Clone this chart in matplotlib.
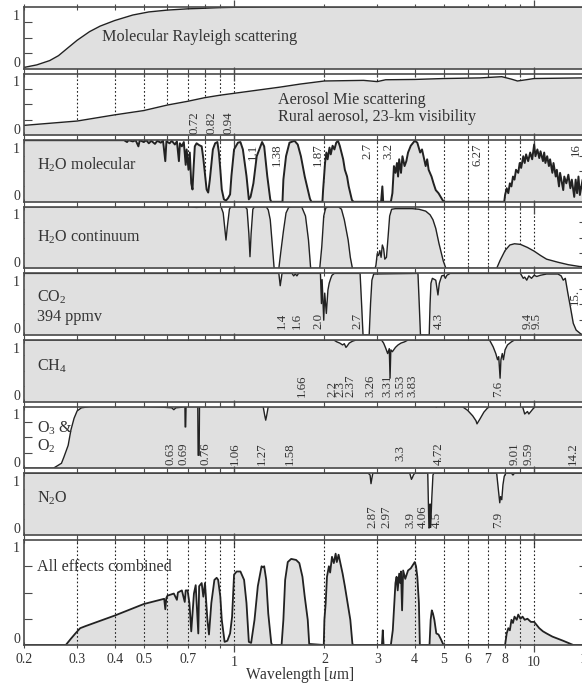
import numpy as np
import matplotlib
matplotlib.use("Agg")
import matplotlib.pyplot as plt

plt.rcParams['font.family'] = ['Liberation Serif', 'DejaVu Serif']
plt.rcParams['mathtext.fontset'] = 'custom'
plt.rcParams['mathtext.rm'] = 'Liberation Serif'
plt.rcParams['mathtext.it'] = 'Liberation Serif:italic'

# ---------------- data (wavelength um, transmittance) ----------------
RAYLEIGH = [(0.20, 0.02), (0.22, 0.06), (0.243, 0.13), (0.26, 0.21), (0.28, 0.34), (0.30, 0.46),
            (0.33, 0.60), (0.358, 0.69), (0.40, 0.78), (0.46, 0.87), (0.52, 0.92), (0.60, 0.95),
            (0.70, 0.97), (0.80, 0.98), (0.90, 0.99), (1.0, 0.995), (1.3, 1.0), (2.0, 1.0), (16, 1.0)]

AEROSOL = [(0.2, 0.16), (0.3, 0.23), (0.4, 0.33), (0.5, 0.40), (0.6, 0.49), (0.7, 0.55), (0.8, 0.61),
           (0.9, 0.65), (1.0, 0.68), (1.42, 0.78), (1.66, 0.83), (2.0, 0.88), (2.7, 0.89), (3.0, 0.87),
           (3.2, 0.90), (4.0, 0.905), (5.0, 0.92), (6.6, 0.93), (7.8, 0.95), (8.4, 0.91), (8.8, 0.88),
           (9.4, 0.90), (10.0, 0.92), (14.4, 0.93), (16, 0.93)]

H2O_MOL = [(0.2, 1.0), (0.43, 1.0), (0.44, 0.97), (0.445, 1.0), (0.46, 0.98), (0.47, 1.0), (0.48, 0.9),
           (0.485, 1.0), (0.5, 0.97), (0.51, 1.0), (0.52, 0.95), (0.53, 0.99), (0.545, 0.94), (0.555, 0.99),
           (0.57, 0.96), (0.58, 0.99), (0.59, 0.66), (0.595, 0.98), (0.61, 0.95), (0.62, 0.99), (0.635, 0.93),
           (0.645, 0.98), (0.655, 0.66), (0.66, 0.95), (0.67, 0.9), (0.68, 0.97), (0.69, 0.6), (0.695, 0.85),
           (0.705, 0.52), (0.712, 0.8), (0.72, 0.3), (0.727, 0.2), (0.733, 0.55), (0.74, 0.9), (0.75, 0.95),
           (0.765, 0.92), (0.78, 0.9), (0.79, 0.7), (0.80, 0.45), (0.81, 0.2), (0.82, 0.15), (0.83, 0.35),
           (0.84, 0.6), (0.85, 0.85), (0.865, 0.95), (0.88, 0.97), (0.89, 0.8), (0.9, 0.52), (0.91, 0.2),
           (0.925, 0.04), (0.94, 0.02), (0.955, 0.06), (0.97, 0.12), (0.98, 0.42), (1.0, 0.85), (1.03, 0.96),
           (1.05, 0.97), (1.07, 0.85), (1.1, 0.42), (1.12, 0.04), (1.135, 0.08), (1.16, 0.3), (1.19, 0.74),
           (1.24, 0.97), (1.26, 0.9), (1.29, 0.42), (1.32, 0.04), (1.33, 0.0), (1.45, 0.0), (1.46, 0.36),
           (1.49, 0.74), (1.53, 0.96), (1.59, 0.99), (1.63, 0.93), (1.67, 0.74), (1.72, 0.41), (1.79, 0.05),
           (1.81, 0.0), (1.97, 0.0), (1.98, 0.19), (2.01, 0.63), (2.03, 0.8), (2.05, 0.69), (2.08, 0.88),
           (2.1, 0.77), (2.13, 0.91), (2.16, 0.85), (2.19, 0.96), (2.22, 0.99), (2.25, 0.91), (2.28, 0.8),
           (2.31, 0.69), (2.34, 0.52), (2.38, 0.41), (2.41, 0.25), (2.44, 0.14), (2.47, 0.03), (2.5, 0.0),
           (3.09, 0.0), (3.12, 0.25), (3.14, 0.0), (3.33, 0.0), (3.37, 0.14), (3.41, 0.58), (3.45, 0.47),
           (3.49, 0.63), (3.52, 0.41), (3.55, 0.69), (3.6, 0.47), (3.64, 0.74), (3.7, 0.58), (3.75, 0.66),
           (3.8, 0.8), (3.88, 0.91), (4.0, 0.99), (4.08, 0.96), (4.17, 0.8), (4.23, 0.85), (4.35, 0.58),
           (4.4, 0.69), (4.45, 0.52), (4.55, 0.41), (4.62, 0.3), (4.7, 0.19), (4.8, 0.14), (4.95, 0.03),
           (5.0, 0.0), (7.95, 0.0), (8.0, 0.11), (8.1, 0.22), (8.2, 0.14), (8.3, 0.3), (8.4, 0.25), (8.5, 0.41),
           (8.6, 0.36), (8.7, 0.52), (8.85, 0.47), (8.95, 0.63), (9.05, 0.55), (9.2, 0.74), (9.3, 0.63),
           (9.4, 0.77), (9.55, 0.66), (9.7, 0.8), (9.85, 0.69), (10.0, 0.93), (10.1, 0.74), (10.25, 0.85),
           (10.4, 0.71), (10.5, 0.82), (10.7, 0.66), (10.8, 0.8), (10.9, 0.63), (11.05, 0.74), (11.2, 0.58),
           (11.3, 0.69), (11.5, 0.47), (11.6, 0.63), (11.8, 0.41), (11.9, 0.52), (12.1, 0.25), (12.2, 0.47),
           (12.5, 0.19), (12.6, 0.41), (12.8, 0.3), (13.0, 0.44), (13.2, 0.22), (13.35, 0.36), (13.6, 0.08),
           (13.75, 0.36), (13.9, 0.14), (14.05, 0.41), (14.2, 0.11), (14.5, 0.36), (15, 0.3), (16, 0.3)]

H2O_CONT = [(0.2, 1.0), (0.70, 1.0), (0.75, 0.99), (0.8, 1.0), (0.905, 1.0), (0.92, 0.9), (0.93, 0.68),
            (0.94, 0.46), (0.95, 0.68), (0.965, 0.96), (0.975, 1.0), (1.09, 1.0), (1.105, 0.96), (1.12, 0.57),
            (1.13, 0.19), (1.14, 0.57), (1.155, 0.96), (1.17, 1.0), (1.28, 1.0), (1.3, 0.95), (1.32, 0.79),
            (1.34, 0.4), (1.36, 0.0), (1.41, 0.0), (1.43, 0.25), (1.46, 0.6), (1.49, 0.9), (1.52, 0.99),
            (1.55, 1.0), (1.68, 1.0), (1.73, 0.85), (1.77, 0.46), (1.8, 0.0), (1.93, 0.0), (1.96, 0.35),
            (1.99, 0.85), (2.02, 0.98), (2.06, 1.0), (2.23, 1.0), (2.28, 0.96), (2.33, 0.79), (2.4, 0.46),
            (2.44, 0.18), (2.48, 0.0), (2.95, 0.0), (2.97, 0.05), (3.0, 0.24), (3.03, 0.21), (3.06, 0.29),
            (3.09, 0.18), (3.12, 0.38), (3.15, 0.32), (3.18, 0.15), (3.22, 0.18), (3.26, 0.51), (3.3, 0.85),
            (3.35, 0.96), (3.45, 0.97), (3.92, 0.97), (4.13, 0.96), (4.35, 0.93), (4.5, 0.87), (4.6, 0.79),
            (4.7, 0.65), (4.82, 0.4), (4.98, 0.12), (5.08, 0.0), (7.5, 0.0), (7.7, 0.13), (8.0, 0.29),
            (8.3, 0.38), (8.6, 0.4), (9.0, 0.39), (9.5, 0.34), (10.0, 0.28), (10.5, 0.21), (11.0, 0.15),
            (12.0, 0.1), (13.0, 0.06), (14.2, 0.03), (16, 0.02)]

CO2 = [(0.2, 1.0), (1.41, 1.0), (1.425, 0.8), (1.435, 0.9), (1.445, 1.0), (1.56, 1.0), (1.58, 0.96),
       (1.6, 0.99), (1.62, 0.96), (1.64, 1.0), (1.94, 1.0), (1.955, 0.51), (1.965, 0.9), (1.99, 0.24),
       (2.005, 0.68), (2.03, 0.35), (2.055, 0.73), (2.075, 0.84), (2.1, 0.92), (2.12, 0.97), (2.16, 1.0),
       (2.63, 1.0), (2.66, 0.51), (2.69, 0.0), (2.82, 0.0), (2.85, 0.51), (2.88, 0.89), (2.92, 0.99),
       (4.1, 1.0), (4.14, 0.51), (4.18, 0.0), (4.47, 0.0), (4.5, 0.51), (4.53, 0.84), (4.58, 0.92),
       (4.7, 0.89), (4.78, 0.65), (4.83, 0.84), (4.92, 0.96), (5.0, 0.97), (5.06, 0.92), (5.12, 0.97),
       (5.25, 1.0), (9.0, 1.0), (9.2, 0.92), (9.3, 0.94), (9.45, 0.89), (9.6, 0.96), (9.8, 0.92),
       (10.0, 0.97), (10.2, 0.95), (10.5, 0.97), (11.0, 0.99), (12.0, 0.99), (12.3, 0.96), (12.5, 0.89),
       (12.7, 0.92), (12.95, 0.68), (13.2, 0.46), (13.5, 0.19), (13.8, 0.08), (14.2, 0.03), (14.5, 0.0),
       (16, 0.0)]

CH4 = [(0.2, 1.0), (2.15, 1.0), (2.2, 0.97), (2.25, 0.95), (2.3, 0.92), (2.33, 0.94), (2.36, 0.88),
       (2.38, 0.9), (2.42, 0.95), (2.48, 0.98), (2.55, 1.0), (3.1, 1.0), (3.15, 0.95), (3.2, 0.87),
       (3.25, 0.78), (3.29, 0.86), (3.31, 0.38), (3.33, 0.84), (3.37, 0.81), (3.45, 0.88), (3.52, 0.92),
       (3.6, 0.95), (3.7, 0.97), (3.8, 1.0), (7.1, 1.0), (7.3, 0.89), (7.45, 0.78), (7.55, 0.68),
       (7.62, 0.73), (7.7, 0.38), (7.75, 0.68), (7.83, 0.78), (7.9, 0.68), (8.0, 0.84), (8.15, 0.92),
       (8.4, 0.97), (8.6, 1.0), (16, 1.0)]

O3_O2 = [(0.2, 0.0), (0.25, 0.0), (0.256, 0.03), (0.266, 0.08), (0.271, 0.18), (0.28, 0.37), (0.286, 0.62),
         (0.293, 0.81), (0.3, 0.93), (0.31, 0.98), (0.33, 1.0), (0.5, 1.0), (0.58, 0.99), (0.62, 0.98),
         (0.63, 0.95), (0.64, 0.98), (0.67, 0.99), (0.686, 1.0), (0.687, 0.67), (0.69, 0.67), (0.692, 1.0),
         (0.757, 1.0), (0.759, 0.21), (0.765, 0.21), (0.767, 1.0), (1.25, 1.0), (1.265, 0.86), (1.275, 0.78),
         (1.285, 0.86), (1.3, 1.0), (4.7, 1.0), (4.72, 0.99), (4.74, 1.0), (5.76, 1.0), (6.0, 0.94),
         (6.24, 0.85), (6.4, 0.77), (6.45, 0.72), (6.6, 0.8), (6.8, 0.91), (7.0, 0.98), (7.1, 1.0),
         (9.15, 1.0), (9.3, 0.88), (9.5, 0.92), (9.6, 0.88), (9.75, 0.92), (9.9, 0.96), (10.05, 1.0),
         (16, 1.0)]

N2O = [(0.2, 1.0), (2.8, 1.0), (2.84, 0.97), (2.86, 0.83), (2.88, 0.92), (2.9, 1.0), (3.85, 1.0),
       (3.9, 0.9), (3.93, 0.93), (3.96, 0.97), (4.0, 1.0), (4.42, 1.0), (4.46, 0.11), (4.49, 0.12),
       (4.5, 0.5), (4.52, 0.12), (4.56, 0.6), (4.6, 0.97), (4.63, 1.0), (7.5, 1.0), (7.6, 0.73),
       (7.68, 0.52), (7.73, 0.62), (7.8, 0.57), (7.87, 0.81), (7.95, 0.95), (8.05, 1.0), (8.4, 1.0),
       (8.5, 0.97), (8.6, 1.0), (16, 1.0)]

COMBINED = [(0.2, 0.0), (0.275, 0.0), (0.286, 0.06), (0.296, 0.11), (0.307, 0.16), (0.32, 0.18),
            (0.4, 0.28), (0.5, 0.39), (0.566, 0.43), (0.585, 0.44), (0.59, 0.34), (0.595, 0.45),
            (0.6, 0.47), (0.63, 0.49), (0.645, 0.43), (0.65, 0.5), (0.67, 0.52), (0.685, 0.41), (0.69, 0.52),
            (0.7, 0.52), (0.71, 0.4), (0.72, 0.13), (0.728, 0.33), (0.735, 0.49), (0.745, 0.57), (0.76, 0.11),
            (0.765, 0.56), (0.78, 0.59), (0.79, 0.46), (0.80, 0.59), (0.815, 0.24), (0.825, 0.1), (0.84, 0.4),
            (0.86, 0.62), (0.875, 0.64), (0.885, 0.62), (0.9, 0.46), (0.91, 0.24), (0.93, 0.03), (0.95, 0.04),
            (0.97, 0.11), (0.985, 0.27), (1.0, 0.67), (1.02, 0.7), (1.05, 0.7), (1.08, 0.62), (1.1, 0.4),
            (1.12, 0.03), (1.14, 0.02), (1.17, 0.24), (1.2, 0.56), (1.235, 0.75), (1.25, 0.74), (1.26, 0.75),
            (1.28, 0.62), (1.3, 0.3), (1.33, 0.02), (1.34, 0.0), (1.44, 0.0), (1.46, 0.24), (1.48, 0.62),
            (1.51, 0.79), (1.55, 0.82), (1.61, 0.81), (1.65, 0.78), (1.69, 0.65), (1.72, 0.46), (1.76, 0.24),
            (1.78, 0.01), (1.99, 0.0), (2.0, 0.24), (2.02, 0.4), (2.04, 0.65), (2.07, 0.75), (2.09, 0.69),
            (2.12, 0.84), (2.15, 0.78), (2.18, 0.87), (2.2, 0.79), (2.23, 0.86), (2.26, 0.78), (2.3, 0.68),
            (2.34, 0.56), (2.39, 0.4), (2.44, 0.24), (2.48, 0.01), (2.5, 0.0), (3.11, 0.0), (3.13, 0.14),
            (3.15, 0.0), (3.33, 0.0), (3.38, 0.14), (3.45, 0.59), (3.48, 0.65), (3.51, 0.52), (3.55, 0.68),
            (3.58, 0.59), (3.6, 0.7), (3.63, 0.33), (3.66, 0.71), (3.72, 0.63), (3.8, 0.71), (3.88, 0.73),
            (3.94, 0.76), (4.0, 0.79), (4.04, 0.75), (4.08, 0.65), (4.13, 0.4), (4.16, 0.0), (4.48, 0.0),
            (4.52, 0.24), (4.56, 0.33), (4.6, 0.3), (4.65, 0.24), (4.72, 0.11), (4.8, 0.1), (4.88, 0.06),
            (4.97, 0.01), (5.0, 0.0), (8.0, 0.0), (8.1, 0.11), (8.2, 0.16), (8.3, 0.14), (8.4, 0.24),
            (8.5, 0.21), (8.6, 0.27), (8.75, 0.24), (8.85, 0.29), (9.0, 0.25), (9.15, 0.27), (9.3, 0.24),
            (9.5, 0.25), (9.75, 0.22), (10.0, 0.22), (10.2, 0.19), (10.4, 0.16), (10.7, 0.13), (11.0, 0.11),
            (11.5, 0.08), (12.0, 0.06), (12.5, 0.04), (13.0, 0.02), (13.5, 0.0), (16, 0.0)]

# band-centre labels (text, wavelength where the label sits)
LBL_AER = ['0.72', '0.82', '0.94']
LBLX_AER = [0.736, 0.838, 0.955]
LBL_MOL = ['1.1', '1.38', '1.87', '2.7', '3.2', '6.27', '16']
LBLX_MOL = [1.157, 1.391, 1.905, 2.776, 3.262, 6.457, 13.8]
LBL_CO2 = ['1.4', '1.6', '2.0', '2.7', '4.3', '9.4', '9.5']
LBLX_CO2 = [1.445, 1.622, 1.905, 2.57, 4.825, 9.48, 10.23]
LBL_CH4 = ['1.66', '2.2', '2.3', '2.37', '3.26', '3.31', '3.53', '3.83', '7.6']
LBLX_CH4 = [1.685, 2.122, 2.256, 2.436, 2.84, 3.236, 3.575, 3.92, 7.59]
LBL_O3 = ['0.63', '0.69', '0.76', '1.06', '1.27', '1.58', '3.3', '4.72', '9.01', '9.59', '14.2']
LBLX_O3 = [0.612, 0.676, 0.806, 1.008, 1.24, 1.537, 3.575, 4.825, 8.64, 9.55, 13.5]
LBL_N2O = ['2.87', '2.97', '3.9', '4.06', '4.5', '7.9']
LBLX_N2O = [2.884, 3.21, 3.86, 4.27, 4.75, 7.59]

MINOR_TICKS = [0.2, 0.3, 0.4, 0.5, 0.6, 0.7, 0.8, 0.9, 2, 3, 4, 5, 6, 7, 8, 9, 15]
MINOR_LABELS = ['0.2', '0.3', '0.4', '0.5', '', '0.7', '', '', '2', '3', '4', '5', '6', '7', '8', '', '15']
MAJOR_TICKS = [1, 10]
MAJOR_LABELS = ['1', '10']
GRID_LINES = [0.3, 0.4, 0.5, 0.6, 0.7, 0.8, 0.9, 1, 2, 3, 4, 5, 6, 7, 8, 9, 10]

# ---------------- figure ----------------
W, H = 582, 686
fig = plt.figure(figsize=(W / 100, H / 100), dpi=100)
LEFT, RIGHT = 24.3, 587.0
FILL = '#e0e0e0'
LINE = '#222222'
TXT = '#333333'
SPINE = '#4a4a4a'
FS_TXT = 11.6
FS_NUM = 9.3
FS_TICK = 10


def add_panel(top, h):
    return fig.add_axes([LEFT / W, 1 - (top + h) / H, (RIGHT - LEFT) / W, h / H])


pitch = 66.6
tops = [7 + i * pitch for i in range(8)] + [540]
heights = [61.6] * 8 + [105]

panels = [
    dict(data=RAYLEIGH, texts=[('Molecular Rayleigh scattering', 0.138, 0.51)], grid=None, lw=1.0),
    dict(data=AEROSOL, texts=[('Aerosol Mie scattering', 0.451, 0.57),
                              ('Rural aerosol, 23-km visibility', 0.451, 0.30)], grid='below', lw=1.0,
         labels=(LBL_AER, LBLX_AER, 'bottom', 0.02)),
    dict(data=H2O_MOL, texts=[('H$_2$O molecular', 0.0226, 0.60)], grid='below', lw=1.4,
         labels=(LBL_MOL, LBLX_MOL, 'top', 0.95)),
    dict(data=H2O_CONT, texts=[('H$_2$O continuum', 0.0226, 0.51)], grid='below', lw=1.0),
    dict(data=CO2, texts=[('CO$_2$', 0.0226, 0.62), ('394 ppmv', 0.0226, 0.29)], grid=None, lw=1.0,
         labels=(LBL_CO2, LBLX_CO2, 'bottom', 0.09)),
    dict(data=CH4, texts=[('CH$_4$', 0.0226, 0.57)], grid=None, lw=1.0,
         labels=(LBL_CH4, LBLX_CH4, 'bottom', 0.08)),
    dict(data=O3_O2, texts=[('O$_3$ &', 0.0226, 0.65), ('O$_2$', 0.0226, 0.36)], grid=None, lw=1.0,
         labels=(LBL_O3, LBLX_O3, 'center', 0.24)),
    dict(data=N2O, texts=[('N$_2$O', 0.0226, 0.60)], grid=None, lw=1.0,
         labels=(LBL_N2O, LBLX_N2O, 'bottom', 0.11)),
    dict(data=COMBINED, texts=[('All effects combined', 0.0226, 0.74)], grid='above', lw=1.3),
]

axes = []
for i, p in enumerate(panels):
    ax = add_panel(tops[i], heights[i])
    axes.append(ax)
    wl, tr = np.array(p['data']).T
    ax.set_xscale('log')
    ax.fill_between(wl, 0, tr, color=FILL, lw=0, zorder=2)
    ax.plot(wl, tr, color=LINE, lw=p['lw'], zorder=4)
    if p['grid'] is not None:
        z = 1 if p['grid'] == 'below' else 3
        for g in GRID_LINES:
            ax.axvline(g, color='#222222', lw=0.8, ls=(0, (1.5, 2.0)), zorder=z)
    ax.set_xlim(0.2, 15)
    ax.set_ylim(0, 1)
    for s in ax.spines.values():
        s.set_color(SPINE)
        s.set_linewidth(1.2)
        s.set_zorder(6)
    ax.set_xticks(MAJOR_TICKS)
    ax.set_xticks(MINOR_TICKS, minor=True)
    ax.set_yticks([0.25, 0.5, 0.75])
    ax.tick_params(axis='y', direction='in', length=6, width=0.8, color=SPINE,
                   left=True, right=True, labelleft=False)
    ax.tick_params(axis='x', which='major', direction='inout', length=10, width=0.9, color=SPINE,
                   top=True, bottom=True)
    ax.tick_params(axis='x', which='minor', direction='inout', length=5, width=0.8, color=SPINE,
                   top=True, bottom=True)
    if i == len(panels) - 1:
        ax.set_xticklabels(MAJOR_LABELS)
        ax.set_xticklabels(MINOR_LABELS, minor=True)
        ax.tick_params(axis='x', which='both', labelsize=FS_TICK, labelcolor=TXT, pad=3)
    else:
        ax.tick_params(axis='x', which='both', labelbottom=False)
    # y labels 0 / 1
    ax.annotate('1', xy=(0, 1), xycoords='axes fraction', xytext=(-3, -1.8),
                textcoords='offset points', ha='right', va='top', fontsize=FS_TICK, color=TXT)
    ax.annotate('0', xy=(0, 0), xycoords='axes fraction', xytext=(-3, 1.2),
                textcoords='offset points', ha='right', va='baseline', fontsize=FS_TICK, color=TXT)
    for (t, x, y) in p['texts']:
        ax.text(x, y, t, transform=ax.transAxes, ha='left', va='center', fontsize=FS_TXT,
                color=TXT, zorder=7)
    if 'labels' in p:
        lbls, xs, va, y = p['labels']
        for t, x in zip(lbls, xs):
            ax.text(x, y, t, transform=ax.get_xaxis_transform(), rotation=90, ha='center',
                    va=va, fontsize=FS_NUM, color=TXT, zorder=7)

# odd label at right edge of CO2 panel
axes[4].text(13.7, 0.48, '15.', transform=axes[4].get_xaxis_transform(), rotation=90,
             ha='center', va='bottom', fontsize=FS_NUM, color=TXT, zorder=7)

fig.text(300 / W, 1 - 675 / H, 'Wavelength [$\\mathit{u}$m]', ha='center', va='center',
         fontsize=11.2, color=TXT)

fig.savefig('out.png', dpi=100)
